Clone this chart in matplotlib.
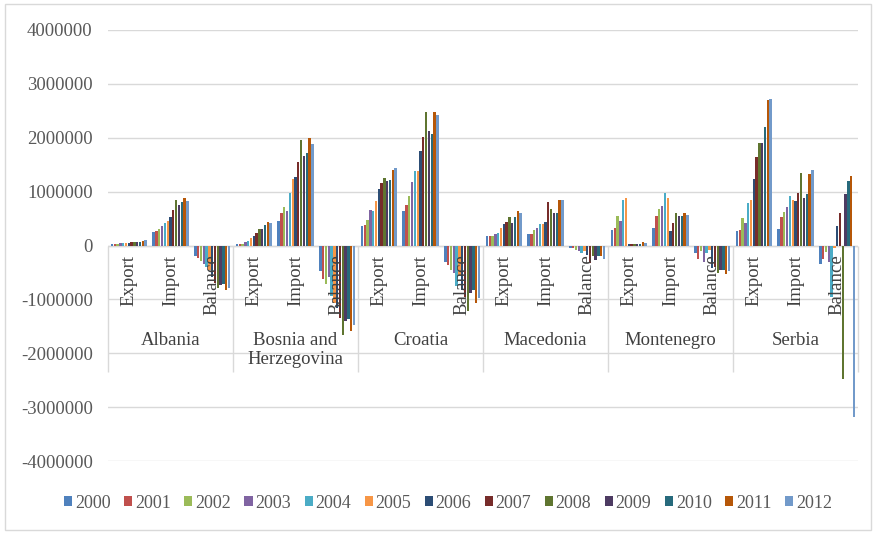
import matplotlib.pyplot as plt
import numpy as np
from matplotlib.patches import Patch, Rectangle

plt.rcParams['font.family'] = ['Liberation Serif', 'DejaVu Serif']
plt.rcParams['axes.unicode_minus'] = False

years = [2000, 2001, 2002, 2003, 2004, 2005, 2006, 2007, 2008, 2009, 2010, 2011, 2012]
colors = ['#4F81BD', '#C0504D', '#9BBB59', '#8064A2', '#4BACC6', '#F79646', '#2C4D75',
          '#772C2A', '#5F7530', '#4D3B62', '#276A7C', '#B65708', '#729ACA']
countries = ['Albania', 'Bosnia and\nHerzegovina', 'Croatia', 'Macedonia', 'Montenegro', 'Serbia']
flows = ['Export', 'Import', 'Balance']

# one value per year, 2000..2012
alb_exp = [25000, 30000, 35000, 40000, 45000, 50000, 55000, 65000, 70000, 60000, 65000, 80000, 100000]
alb_imp = [250000, 270000, 300000, 370000, 420000, 450000, 520000, 650000, 850000, 760000, 800000, 880000, 830000]
alb_bal = [-200000, -230000, -290000, -350000, -400000, -450000, -580000, -700000, -780000, -730000, -720000, -820000, -780000]

bih_exp = [20000, 30000, 35000, 60000, 90000, 140000, 175000, 230000, 310000, 300000, 375000, 430000, 425000]
bih_imp = [455000, 595000, 720000, 645000, 980000, 1230000, 1280000, 1550000, 1950000, 1670000, 1720000, 1990000, 1880000]
bih_bal = [-470000, -625000, -720000, -590000, -940000, -1060000, -1160000, -1340000, -1660000, -1410000, -1370000, -1580000, -1470000]

hrv_exp = [355000, 380000, 480000, 665000, 645000, 820000, 1050000, 1160000, 1250000, 1190000, 1220000, 1400000, 1440000]
hrv_imp = [646000, 758000, 925000, 1170000, 1390000, 1380000, 1750000, 2020000, 2480000, 2120000, 2070000, 2470000, 2420000]
hrv_bal = [-300000, -360000, -450000, -510000, -760000, -575000, -820000, -950000, -1220000, -880000, -820000, -1070000, -980000]

mkd_exp = [174000, 174000, 174000, 210000, 235000, 320000, 390000, 430000, 530000, 410000, 530000, 645000, 610000]
mkd_imp = [210000, 210000, 280000, 320000, 390000, 400000, 430000, 810000, 680000, 610000, 610000, 840000, 850000]
mkd_bal = [-50000, -50000, -90000, -100000, -140000, -100000, -180000, -330000, -200000, -260000, -200000, -200000, -250000]

mne_exp = [280000, 320000, 540000, 450000, 840000, 890000, 30000, 30000, 30000, 30000, 35000, 60000, 50000]
mne_imp = [320000, 550000, 680000, 740000, 970000, 880000, 270000, 420000, 610000, 550000, 540000, 600000, 560000]
mne_bal = [-140000, -250000, -110000, -300000, -140000, -80000, -420000, -390000, -510000, -460000, -460000, -530000, -480000]

srb_exp = [260000, 290000, 510000, 420000, 790000, 850000, 1230000, 1640000, 1900000, 1900000, 2200000, 2700000, 2720000]
srb_imp = [310000, 520000, 630000, 720000, 910000, 850000, 830000, 980000, 1350000, 890000, 960000, 1320000, 1400000]
srb_bal = [-350000, -250000, -120000, -310000, -950000, -50000, 370000, 610000, -2480000, 950000, 1200000, 1290000, -3190000]

rows = [alb_exp, alb_imp, alb_bal, bih_exp, bih_imp, bih_bal, hrv_exp, hrv_imp, hrv_bal,
        mkd_exp, mkd_imp, mkd_bal, mne_exp, mne_imp, mne_bal, srb_exp, srb_imp, srb_bal]
values = np.array(rows)

W, H = 876, 533
fig = plt.figure(figsize=(W / 100, H / 100), dpi=100)
ax = fig.add_axes([108 / W, (H - 461) / H, 750 / W, 431 / H])

n = len(years)
step = 0.875 / n
x = np.arange(len(rows))
for j, (yr, c) in enumerate(zip(years, colors)):
    ax.bar(x + (j - (n - 1) / 2) * step, values[:, j], width=step * 0.85,
           color=c, linewidth=0, zorder=2)

ax.set_xlim(-0.5, len(rows) - 0.5)
ax.set_ylim(-4e6, 4e6)
ax.set_yticks(np.arange(-4e6, 4.1e6, 1e6))
ax.yaxis.set_major_formatter(lambda v, p: f'{v:.0f}')
ax.grid(axis='y', color='#D9D9D9', lw=1, zorder=0)
ax.set_axisbelow(True)
for s in ax.spines.values():
    s.set_visible(False)
ax.set_xticks([])
ax.tick_params(axis='y', length=0, pad=11, labelsize=13.5, labelcolor='#595959')
ax.axhline(0, color='#D9D9D9', lw=1, zorder=1)

# two-level category axis
ax.vlines(np.arange(-0.5, len(rows), 3), -2.34e6, 0, color='#D9D9D9', lw=1,
          zorder=1, clip_on=False)
for i in range(len(rows)):
    ax.text(i, -0.17e6, flows[i % 3], rotation=90, ha='center', va='top',
            fontsize=13.5, color='#404040', zorder=5)
for k, name in enumerate(countries):
    ax.text(3 * k + 1, -1.6e6, name, ha='center', va='top',
            fontsize=13.5, color='#404040', zorder=5)

handles = [Patch(facecolor=c, label=str(y)) for y, c in zip(years, colors)]
fig.legend(handles=handles, loc='center', bbox_to_anchor=(448 / W, (H - 503) / H),
           ncol=n, frameon=False, fontsize=13, handlelength=0.45, handleheight=0.45,
           handletextpad=0.15, columnspacing=0.75, labelcolor='#595959')

fig.add_artist(Rectangle((5 / W, 3 / H), 866 / W, 526 / H, transform=fig.transFigure,
                         fill=False, edgecolor='#D9D9D9', lw=1))

fig.savefig('out.png', dpi=100)
